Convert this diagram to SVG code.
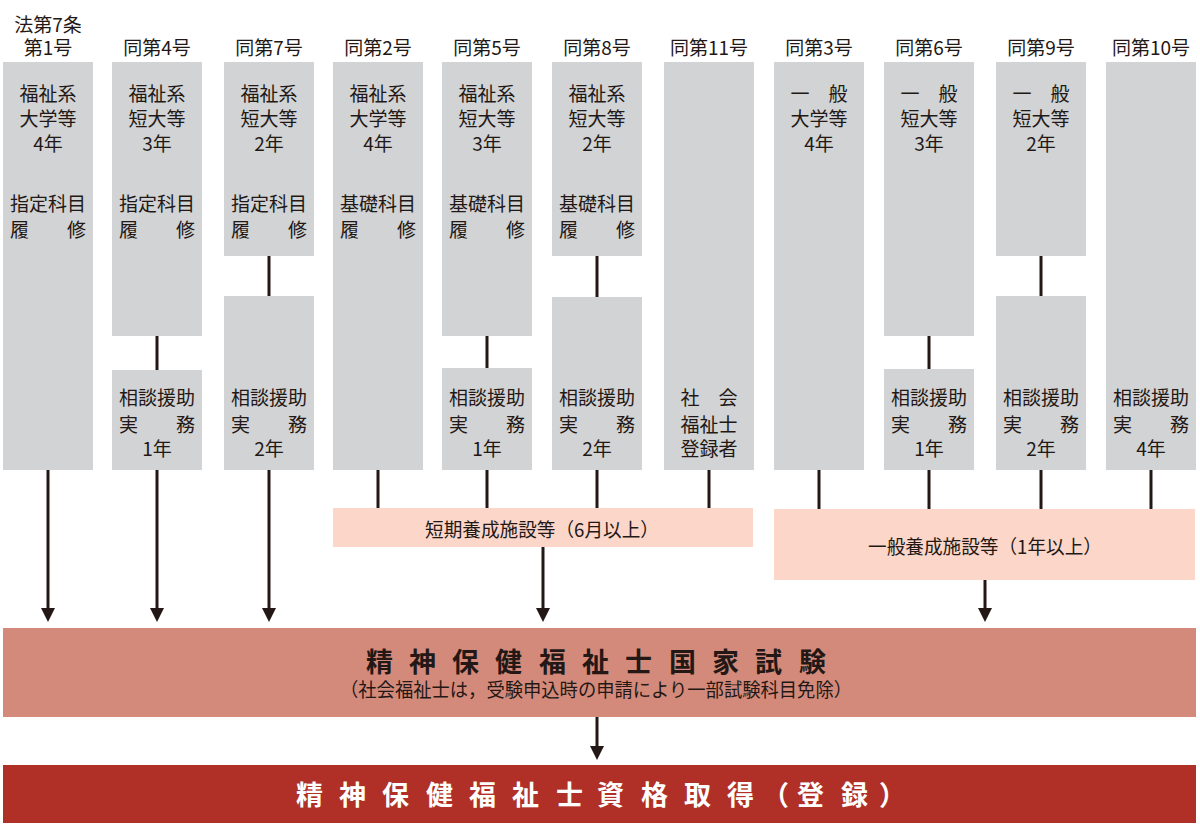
<svg xmlns="http://www.w3.org/2000/svg" width="1200" height="826" viewBox="0 0 1200 826">
<defs>
<style>
text{font-family:"Noto Sans CJK JP","Noto Sans CJK SC",sans-serif;fill:#231815;}
.h{font-size:19px;text-anchor:middle;}
.t{font-size:19px;text-anchor:middle;}
.col{fill:#d1d3d4;}
.pink{fill:#fbd6c9;}
.exam{fill:#d48a7a;}
.fin{fill:#b03028;}
.ln{stroke:#231815;stroke-width:3;fill:none;}
.ar{stroke:#231815;stroke-width:3;fill:none;marker-end:url(#ah);}
.big{font-size:27px;font-weight:bold;}
.sub{font-size:19px;}
</style>
<marker id="ah" markerUnits="userSpaceOnUse" markerWidth="14" markerHeight="14" refX="4" refY="7" orient="auto">
<path d="M0,0 L14,7 L0,14 Z" fill="#231815"/>
</marker>
</defs>
<rect width="1200" height="826" fill="#ffffff"/>

<g id="headers">
<text class="h" x="48" y="32">法第7条</text>
<text class="h" x="48" y="55">第1号</text>
<text class="h" x="157" y="55">同第4号</text>
<text class="h" x="269" y="55">同第7号</text>
<text class="h" x="378" y="55">同第2号</text>
<text class="h" x="487" y="55">同第5号</text>
<text class="h" x="597" y="55">同第8号</text>
<text class="h" x="709" y="55">同第11号</text>
<text class="h" x="819" y="55">同第3号</text>
<text class="h" x="929" y="55">同第6号</text>
<text class="h" x="1041" y="55">同第9号</text>
<text class="h" x="1151" y="55">同第10号</text>
</g>

<g id="connectors">
<line class="ln" x1="157" y1="336" x2="157" y2="370"/>
<line class="ln" x1="269" y1="256" x2="269" y2="296"/>
<line class="ln" x1="487" y1="336" x2="487" y2="368"/>
<line class="ln" x1="597" y1="256" x2="597" y2="297"/>
<line class="ln" x1="929" y1="336" x2="929" y2="369"/>
<line class="ln" x1="1041" y1="256" x2="1041" y2="296"/>
<line class="ln" x1="378" y1="470" x2="378" y2="508"/>
<line class="ln" x1="487" y1="470" x2="487" y2="508"/>
<line class="ln" x1="597" y1="470" x2="597" y2="508"/>
<line class="ln" x1="709" y1="470" x2="709" y2="508"/>
<line class="ln" x1="819" y1="470" x2="819" y2="509"/>
<line class="ln" x1="929" y1="470" x2="929" y2="509"/>
<line class="ln" x1="1041" y1="470" x2="1041" y2="509"/>
<line class="ln" x1="1151" y1="470" x2="1151" y2="509"/>
<line class="ar" x1="48" y1="470" x2="48" y2="612"/>
<line class="ar" x1="157" y1="470" x2="157" y2="612"/>
<line class="ar" x1="269" y1="470" x2="269" y2="612"/>
<line class="ar" x1="543" y1="547" x2="543" y2="612"/>
<line class="ar" x1="985" y1="580" x2="985" y2="612"/>
<line class="ar" x1="597" y1="717" x2="597" y2="750"/>
</g>

<g id="n1">
<rect class="col" x="3" y="62" width="90" height="408"/>
<text class="t" x="48" y="101">福祉系</text>
<text class="t" x="48" y="126">大学等</text>
<text class="t" x="48" y="151">4年</text>
<text class="t" x="48" y="211">指定科目</text>
<text class="t" x="48" y="237">履　　修</text>
</g>

<g id="n4a">
<rect class="col" x="112" y="62" width="90" height="274"/>
<text class="t" x="157" y="101">福祉系</text>
<text class="t" x="157" y="126">短大等</text>
<text class="t" x="157" y="151">3年</text>
<text class="t" x="157" y="211">指定科目</text>
<text class="t" x="157" y="237">履　　修</text>
</g>
<g id="n4b">
<rect class="col" x="112" y="370" width="90" height="100"/>
<text class="t" x="157" y="405">相談援助</text>
<text class="t" x="157" y="432">実　　務</text>
<text class="t" x="157" y="456">1年</text>
</g>

<g id="n7a">
<rect class="col" x="224" y="62" width="90" height="194"/>
<text class="t" x="269" y="101">福祉系</text>
<text class="t" x="269" y="126">短大等</text>
<text class="t" x="269" y="151">2年</text>
<text class="t" x="269" y="211">指定科目</text>
<text class="t" x="269" y="237">履　　修</text>
</g>
<g id="n7b">
<rect class="col" x="224" y="296" width="90" height="174"/>
<text class="t" x="269" y="405">相談援助</text>
<text class="t" x="269" y="432">実　　務</text>
<text class="t" x="269" y="456">2年</text>
</g>

<g id="n2">
<rect class="col" x="333" y="62" width="90" height="408"/>
<text class="t" x="378" y="101">福祉系</text>
<text class="t" x="378" y="126">大学等</text>
<text class="t" x="378" y="151">4年</text>
<text class="t" x="378" y="211">基礎科目</text>
<text class="t" x="378" y="237">履　　修</text>
</g>

<g id="n5a">
<rect class="col" x="442" y="62" width="90" height="274"/>
<text class="t" x="487" y="101">福祉系</text>
<text class="t" x="487" y="126">短大等</text>
<text class="t" x="487" y="151">3年</text>
<text class="t" x="487" y="211">基礎科目</text>
<text class="t" x="487" y="237">履　　修</text>
</g>
<g id="n5b">
<rect class="col" x="442" y="368" width="90" height="102"/>
<text class="t" x="487" y="405">相談援助</text>
<text class="t" x="487" y="432">実　　務</text>
<text class="t" x="487" y="456">1年</text>
</g>

<g id="n8a">
<rect class="col" x="552" y="62" width="90" height="194"/>
<text class="t" x="597" y="101">福祉系</text>
<text class="t" x="597" y="126">短大等</text>
<text class="t" x="597" y="151">2年</text>
<text class="t" x="597" y="211">基礎科目</text>
<text class="t" x="597" y="237">履　　修</text>
</g>
<g id="n8b">
<rect class="col" x="552" y="297" width="90" height="173"/>
<text class="t" x="597" y="405">相談援助</text>
<text class="t" x="597" y="432">実　　務</text>
<text class="t" x="597" y="456">2年</text>
</g>

<g id="n11">
<rect class="col" x="664" y="62" width="90" height="408"/>
<text class="t" x="709" y="405">社　会</text>
<text class="t" x="709" y="432">福祉士</text>
<text class="t" x="709" y="456">登録者</text>
</g>

<g id="n3">
<rect class="col" x="774" y="62" width="90" height="408"/>
<text class="t" x="819" y="101">一　般</text>
<text class="t" x="819" y="126">大学等</text>
<text class="t" x="819" y="151">4年</text>
</g>

<g id="n6a">
<rect class="col" x="884" y="62" width="90" height="274"/>
<text class="t" x="929" y="101">一　般</text>
<text class="t" x="929" y="126">短大等</text>
<text class="t" x="929" y="151">3年</text>
</g>
<g id="n6b">
<rect class="col" x="884" y="369" width="90" height="101"/>
<text class="t" x="929" y="405">相談援助</text>
<text class="t" x="929" y="432">実　　務</text>
<text class="t" x="929" y="456">1年</text>
</g>

<g id="n9a">
<rect class="col" x="996" y="62" width="90" height="194"/>
<text class="t" x="1041" y="101">一　般</text>
<text class="t" x="1041" y="126">短大等</text>
<text class="t" x="1041" y="151">2年</text>
</g>
<g id="n9b">
<rect class="col" x="996" y="296" width="90" height="174"/>
<text class="t" x="1041" y="405">相談援助</text>
<text class="t" x="1041" y="432">実　　務</text>
<text class="t" x="1041" y="456">2年</text>
</g>

<g id="n10">
<rect class="col" x="1106" y="62" width="90" height="408"/>
<text class="t" x="1151" y="405">相談援助</text>
<text class="t" x="1151" y="432">実　　務</text>
<text class="t" x="1151" y="456">4年</text>
</g>

<g id="short">
<rect class="pink" x="333" y="508" width="420" height="39"/>
<text class="t" x="542" y="537" textLength="234" lengthAdjust="spacingAndGlyphs">短期養成施設等（6月以上）</text>
</g>

<g id="general">
<rect class="pink" x="774" y="509" width="421" height="71"/>
<text class="t" x="985" y="554" textLength="234" lengthAdjust="spacingAndGlyphs">一般養成施設等（1年以上）</text>
</g>

<g id="exam">
<rect class="exam" x="3" y="628" width="1193" height="89"/>
<text class="big" x="366 409 452 495 539 582 625 669 712 755 799" y="672">精神保健福祉士国家試験</text>
<text class="sub" x="340" y="697" textLength="512" lengthAdjust="spacingAndGlyphs">（社会福祉士は，受験申込時の申請により一部試験科目免除）</text>
</g>

<g id="final">
<rect class="fin" x="3" y="765" width="1193" height="58"/>
<text class="big" style="fill:#ffffff" x="296 339 382 426 469 512 556 597 641 684 727 762 797 841 879" y="805">精神保健福祉士資格取得（登録）</text>
</g>
</svg>
